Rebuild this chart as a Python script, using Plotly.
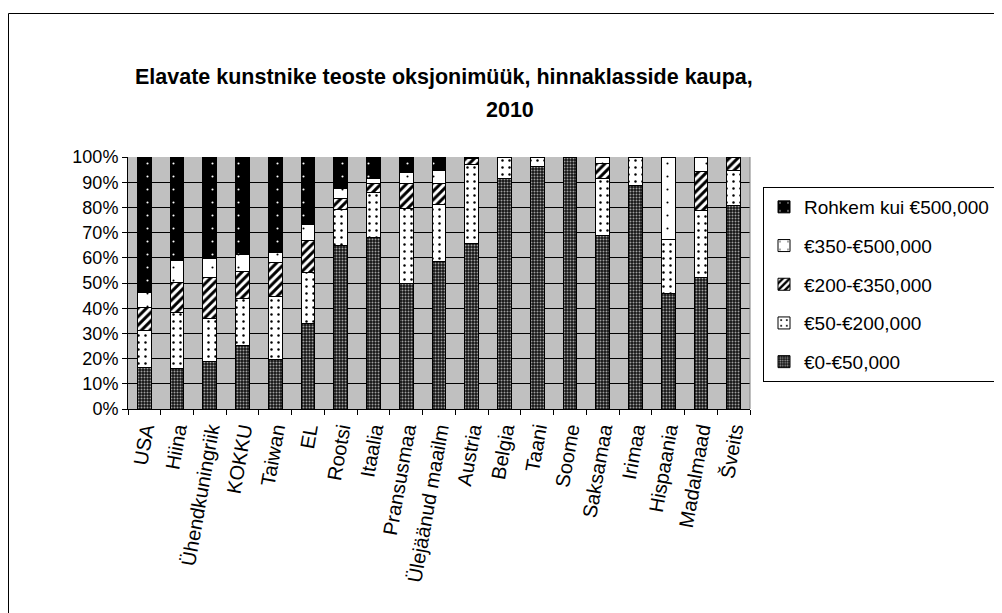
import plotly.graph_objects as go

categories = ["USA", "Hiina", "Ühendkuningriik", "KOKKU", "Taiwan", "EL", "Rootsi", "Itaalia",
              "Pransusmaa", "Ülejäänud maailm", "Austria", "Belgia", "Taani", "Soome", "Saksamaa",
              "Irimaa", "Hispaania", "Madalmaad", "Šveits"]

s_0_50 = [16.5, 16.1, 19.0, 25.1, 19.7, 34.0, 64.8, 68.1, 49.9, 58.5, 65.5, 91.5, 96.4, 100.0, 68.8, 88.5, 45.9, 52.3, 80.7]
s_50_200 = [14.7, 22.3, 17.0, 18.9, 25.1, 20.2, 14.2, 17.9, 29.7, 22.8, 31.7, 8.5, 3.6, 0, 22.5, 11.5, 21.2, 26.4, 13.9]
s_200_350 = [9.0, 11.9, 16.1, 10.4, 13.5, 12.7, 4.6, 3.6, 9.7, 8.0, 2.3, 0, 0, 0, 6.2, 0, 0, 15.5, 5.4]
s_350_500 = [6.0, 8.6, 7.6, 7.0, 3.9, 6.2, 4.0, 1.7, 4.5, 5.3, 0.5, 0, 0, 0, 2.5, 0, 32.9, 5.8, 0]
s_500_plus = [53.8, 41.1, 40.3, 38.6, 37.8, 26.9, 12.4, 8.7, 6.2, 5.4, 0, 0, 0, 0, 0, 0, 0, 0, 0]

series_names = ["€0-€50,000", "€50-€200,000", "€200-€350,000", "€350-€500,000", "Rohkem kui €500,000"]
tick_vals = [0, 10, 20, 30, 40, 50, 60, 70, 80, 90, 100]
tick_text = ["0%", "10%", "20%", "30%", "40%", "50%", "60%", "70%", "80%", "90%", "100%"]

patterns = [
    dict(shape=".", bgcolor="#141414", fgcolor="#a0a0a0", size=3, solidity=0.35, fillmode="replace"),
    dict(shape=".", bgcolor="white", fgcolor="black", size=7, solidity=0.1, fillmode="replace"),
    dict(shape="/", bgcolor="white", fgcolor="black", size=6, solidity=0.5, fillmode="replace"),
    dict(shape=".", bgcolor="white", fgcolor="black", size=13, solidity=0.02, fillmode="replace"),
    dict(shape=".", bgcolor="black", fgcolor="white", size=13, solidity=0.02, fillmode="replace"),
]
values = [s_0_50, s_50_200, s_200_350, s_350_500, s_500_plus]

fig = go.Figure()
for i, (name, vals, pat) in enumerate(zip(series_names, values, patterns)):
    fig.add_trace(go.Bar(
        x=categories, y=vals, name=name, width=0.42,
        legendgroup=f"g{i}", legendrank=1000 - i,
        marker=dict(color="white", pattern=pat, line=dict(color="black", width=1)),
    ))

# The page body has an 8px margin, so figure px = reference px - 8.
# plot area in figure px: x 120-742, y 149-401
def px_x(px):
    return (px - 8 - 120) / 622.0

def px_y(py):
    return (401 - (py - 8)) / 252.0

fig.update_layout(
    width=994, height=605,
    margin=dict(l=120, r=252, t=149, b=204, autoexpand=False),
    barmode="stack",
    paper_bgcolor="white",
    plot_bgcolor="#c0c0c0",
    font=dict(family="Liberation Sans, Arial", size=18, color="black"),
    showlegend=True,
    legend=dict(
        x=px_x(763), y=px_y(187), xanchor="left", yanchor="top",
        bordercolor="black", borderwidth=1, bgcolor="white",
        traceorder="grouped", tracegroupgap=11,
        font=dict(size=19),
    ),
    xaxis=dict(
        tickangle=-80, tickfont=dict(size=20), ticks="outside", ticklen=5,
        tickson="boundaries", tickcolor="black", automargin=False,
        showline=True, linecolor="black", linewidth=1, showgrid=False,
    ),
    yaxis=dict(
        range=[0, 100], tickvals=tick_vals, ticktext=tick_text,
        ticks="outside", ticklen=5, tickcolor="black", automargin=False,
        showline=True, linecolor="black", linewidth=1,
        showgrid=True, gridcolor="black", gridwidth=1, zeroline=False,
        tickfont=dict(size=18),
    ),
    shapes=[
        dict(type="rect", xref="paper", yref="paper",
             x0=px_x(8.5), x1=px_x(1040), y0=px_y(660), y1=px_y(13.5),
             line=dict(color="black", width=1), fillcolor="rgba(0,0,0,0)", layer="below"),
        dict(type="line", xref="paper", yref="paper", x0=1, x1=1, y0=0, y1=1,
             line=dict(color="#808080", width=1)),
    ],
    annotations=[
        dict(text="<b>Elavate kunstnike teoste oksjonimüük, hinnaklasside kaupa,</b>",
             xref="paper", yref="paper", x=px_x(444), y=px_y(77), showarrow=False,
             xanchor="center", yanchor="middle", font=dict(size=21.5)),
        dict(text="<b>2010</b>",
             xref="paper", yref="paper", x=px_x(510), y=px_y(110), showarrow=False,
             xanchor="center", yanchor="middle", font=dict(size=21.5)),
    ],
)

fig.write_html("out.html")
